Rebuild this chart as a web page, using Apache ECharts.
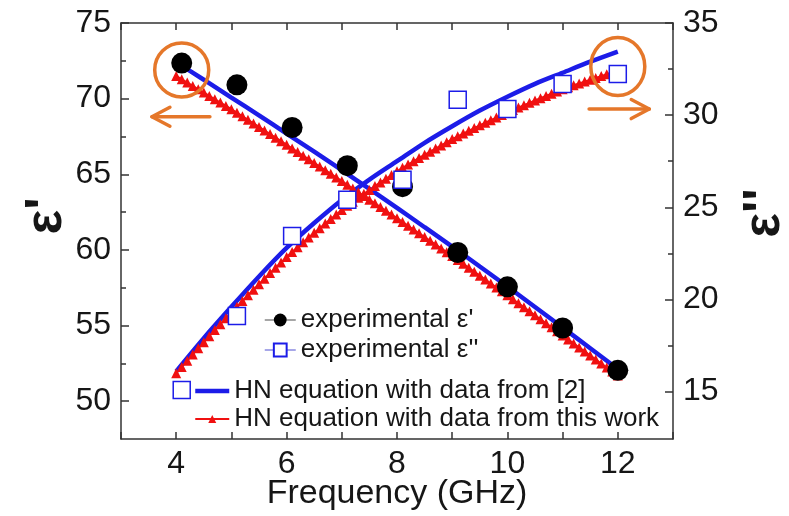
<!DOCTYPE html>
<html>
<head>
<meta charset="utf-8">
<script src="https://cdn.jsdelivr.net/npm/echarts@6/dist/echarts.min.js"></script>
<style>html,body{margin:0;padding:0;background:#fff;}#c{width:789px;height:516px;}</style>
</head>
<body>
<div id="c"></div>
<script>
// ---- data ----
const expFreq = [4.1, 5.1, 6.1, 7.1, 8.1, 9.1, 10.0, 11.0, 12.0];
const expEps1 = [72.35, 70.91, 68.09, 65.57, 64.18, 59.83, 57.56, 54.84, 52.04];
const expEps2 = [15.09, 19.11, 23.45, 25.41, 26.49, 30.84, 30.33, 31.69, 32.23];

const hnRefFreq = [4.0, 4.5, 5.0, 5.5, 6.0, 6.5, 7.0, 7.5, 8.0, 8.5, 9.0, 9.5, 10.0, 10.5, 11.0, 11.5, 12.0];
const hnRefEps1 = [72.4, 71.25, 70.07, 68.9, 67.69, 66.5, 65.27, 64.03, 62.78, 61.5, 60.22, 58.9, 57.58, 56.23, 54.87, 53.5, 52.13];
const hnRefEps2 = [16.1, 17.9, 19.6, 21.25, 22.8, 24.15, 25.4, 26.5, 27.5, 28.5, 29.4, 30.25, 31.0, 31.7, 32.3, 32.9, 33.45];

const hnWorkFreq = [4.0,4.1,4.2,4.3,4.4,4.5,4.6,4.7,4.8,4.9,5.0,5.1,5.2,5.3,5.4,5.5,5.6,5.7,5.8,5.9,6.0,6.1,6.2,6.3,6.4,6.5,6.6,6.7,6.8,6.9,7.0,7.1,7.2,7.3,7.4,7.5,7.6,7.7,7.8,7.9,8.0,8.1,8.2,8.3,8.4,8.5,8.6,8.7,8.8,8.9,9.0,9.1,9.2,9.3,9.4,9.5,9.6,9.7,9.8,9.9,10.0,10.1,10.2,10.3,10.4,10.5,10.6,10.7,10.8,10.9,11.0,11.1,11.2,11.3,11.4,11.5,11.6,11.7,11.8,11.9,12.0];
const hnWorkEps1 = [71.50,71.28,71.06,70.84,70.62,70.40,70.18,69.96,69.74,69.52,69.30,69.07,68.83,68.60,68.36,68.13,67.89,67.66,67.42,67.19,66.95,66.71,66.47,66.23,65.99,65.75,65.51,65.27,65.03,64.79,64.55,64.30,64.06,63.81,63.57,63.32,63.08,62.83,62.59,62.34,62.10,61.85,61.60,61.35,61.10,60.85,60.60,60.35,60.10,59.85,59.60,59.34,59.08,58.82,58.56,58.30,58.04,57.78,57.52,57.26,57.00,56.74,56.47,56.21,55.94,55.68,55.41,55.15,54.88,54.62,54.35,54.08,53.82,53.55,53.29,53.02,52.76,52.49,52.23,51.96,51.70];
const hnWorkEps2 = [16.00,16.34,16.68,17.02,17.35,17.68,18.01,18.34,18.66,18.98,19.30,19.61,19.92,20.23,20.53,20.83,21.13,21.43,21.72,22.01,22.30,22.57,22.84,23.10,23.36,23.62,23.87,24.12,24.37,24.61,24.85,25.08,25.30,25.52,25.73,25.94,26.15,26.35,26.55,26.75,26.95,27.14,27.32,27.50,27.68,27.85,28.02,28.19,28.36,28.53,28.70,28.85,29.00,29.15,29.30,29.45,29.59,29.73,29.87,30.01,30.15,30.28,30.41,30.54,30.67,30.80,30.92,31.04,31.16,31.28,31.40,31.51,31.62,31.72,31.82,31.92,32.02,32.12,32.22,32.31,32.40];

const xTicks = [4, 6, 8, 10, 12];
const leftMajor = [50, 55, 60, 65, 70, 75];
const leftMinor = [52.5, 57.5, 62.5, 67.5, 72.5];
const rightMajor = [15, 20, 25, 30, 35];
const rightMinor = [17.5, 22.5, 27.5, 32.5];

// annotation anchors (data units)
const leftMarker = [4.1, 71.9];      // left axis
const rightMarker = [12.0, 32.64];   // right axis
const leftArrow = [[4.61, 68.8], [3.56, 68.8]];
const rightArrow = [[11.48, 30.33], [12.57, 30.33]];

const nameA = "experimental \u03b5'";
const nameB = "experimental \u03b5''";
const nameC = "HN equation with data from [2]";
const nameD = "HN equation with data from this work";

const FONT = "'Liberation Sans', Arial, sans-serif";
const AX = '#333';
const TXT = '#161616';
const BLUE = '#1c1ce8';
const RED = '#f01010';
const ORANGE = '#e5772a';

const zip = (a, b) => a.map((v, i) => [v, b[i]]);

const chart = echarts.init(document.getElementById('c'), null, {renderer: 'canvas'});

const axisLine = {show: true, onZero: false, lineStyle: {color: AX, width: 1.5}};

const option = {
  animation: false,
  backgroundColor: '#fff',
  grid: {left: 121, right: 116, top: 23, bottom: 77, containLabel: false, outerBoundsMode: 'none'},
  legend: [
    {
      orient: 'vertical', left: 259, top: 302, itemWidth: 31, itemHeight: 16, itemGap: 4,
      textStyle: {fontSize: 26, color: TXT, fontFamily: FONT},
      data: [
        {name: nameA, lineStyle: {color: '#888', width: 1.5, opacity: 1}},
        {name: nameB, lineStyle: {color: '#8a8ae0', width: 1.5, opacity: 1}}
      ]
    },
    {
      orient: 'vertical', left: 188, top: 373, itemWidth: 34, itemHeight: 10, itemGap: 2,
      textStyle: {fontSize: 26, color: TXT, fontFamily: FONT},
      data: [
        {name: nameC, itemStyle: {opacity: 0}, lineStyle: {width: 4.5, color: BLUE, opacity: 1}},
        {name: nameD, lineStyle: {width: 2, color: RED, opacity: 1}}
      ]
    }
  ],
  xAxis: [
    {
      type: 'value', min: 3, max: 13, interval: 1, position: 'bottom',
      axisLine: axisLine,
      axisTick: {show: true, inside: true, length: 7, lineStyle: {color: AX, width: 1.5}},
      axisLabel: {
        fontSize: 32, color: TXT, fontFamily: FONT, margin: 9,
        formatter: v => (xTicks.indexOf(v) >= 0 ? String(v) : '')
      },
      splitLine: {show: false},
      name: 'Frequency (GHz)', nameLocation: 'middle', nameGap: 38, nameMoveOverlap: false,
      nameTextStyle: {fontSize: 34, color: TXT, fontFamily: FONT}
    },
    {
      type: 'value', min: 3, max: 13, interval: 1, position: 'top',
      axisLine: axisLine,
      axisTick: {show: true, inside: true, length: 7, lineStyle: {color: AX, width: 1.5}},
      axisLabel: {show: false},
      splitLine: {show: false}
    }
  ],
  yAxis: [
    {
      type: 'value', min: 47.5, max: 75, position: 'left',
      axisLine: axisLine,
      axisTick: {show: true, inside: true, length: 8, customValues: leftMajor, lineStyle: {color: AX, width: 1.5}},
      axisLabel: {fontSize: 32, color: TXT, fontFamily: FONT, margin: 10, customValues: leftMajor},
      splitLine: {show: false},
      name: "\u03b5'", nameLocation: 'middle', nameRotate: 90, nameGap: 48, nameMoveOverlap: false,
      nameTextStyle: {fontSize: 52, fontWeight: 'bold', color: TXT, fontFamily: FONT, padding: [0, 0, 0, 30]}
    },
    {
      type: 'value', min: 47.5, max: 75, position: 'left',
      axisLine: {show: false},
      axisTick: {show: true, inside: true, length: 5, customValues: leftMinor, lineStyle: {color: AX, width: 1.5}},
      axisLabel: {show: false},
      splitLine: {show: false}
    },
    {
      type: 'value', min: 12.43, max: 35, position: 'right',
      axisLine: axisLine,
      axisTick: {show: true, inside: true, length: 8, customValues: rightMajor, lineStyle: {color: AX, width: 1.5}},
      axisLabel: {fontSize: 32, color: TXT, fontFamily: FONT, margin: 10, customValues: rightMajor},
      splitLine: {show: false},
      name: "\u03b5''", nameLocation: 'middle', nameRotate: 90, nameGap: 66, nameMoveOverlap: false,
      nameTextStyle: {fontSize: 52, fontWeight: 'bold', color: TXT, fontFamily: FONT, padding: [0, 0, 0, 36]}
    },
    {
      type: 'value', min: 12.43, max: 35, position: 'right',
      axisLine: {show: false},
      axisTick: {show: true, inside: true, length: 5, customValues: rightMinor, lineStyle: {color: AX, width: 1.5}},
      axisLabel: {show: false},
      splitLine: {show: false}
    }
  ],
  series: [
    {
      name: nameD, type: 'line', xAxisIndex: 0, yAxisIndex: 0,
      data: zip(hnWorkFreq, hnWorkEps1),
      symbol: 'triangle', symbolSize: 10, showSymbol: true, showAllSymbol: true,
      lineStyle: {color: RED, width: 2}, itemStyle: {color: RED}
    },
    {
      name: nameD, type: 'line', xAxisIndex: 0, yAxisIndex: 2,
      data: zip(hnWorkFreq, hnWorkEps2),
      symbol: 'triangle', symbolSize: 10, showSymbol: true, showAllSymbol: true,
      lineStyle: {color: RED, width: 2}, itemStyle: {color: RED}
    },
    {
      name: nameC, type: 'line', xAxisIndex: 0, yAxisIndex: 0,
      data: zip(hnRefFreq, hnRefEps1), smooth: 0.3,
      symbol: 'none', lineStyle: {color: BLUE, width: 4.5}, itemStyle: {color: BLUE}
    },
    {
      name: nameC, type: 'line', xAxisIndex: 0, yAxisIndex: 2,
      data: zip(hnRefFreq, hnRefEps2), smooth: 0.3,
      symbol: 'none', lineStyle: {color: BLUE, width: 4.5}, itemStyle: {color: BLUE}
    },
    {
      name: nameA, type: 'line', xAxisIndex: 0, yAxisIndex: 0,
      data: zip(expFreq, expEps1),
      symbol: 'circle', symbolSize: 21,
      lineStyle: {width: 0, opacity: 0}, itemStyle: {color: '#000'}
    },
    {
      name: nameB, type: 'line', xAxisIndex: 0, yAxisIndex: 2,
      data: zip(expFreq, expEps2),
      symbol: 'rect', symbolSize: 17,
      lineStyle: {width: 0, opacity: 0},
      itemStyle: {color: '#fff', borderColor: BLUE, borderWidth: 1.5}
    }
  ]
};

chart.setOption(option);

// annotations anchored to data coordinates
const pL = chart.convertToPixel({xAxisIndex: 0, yAxisIndex: 0}, leftMarker);
const pR = chart.convertToPixel({xAxisIndex: 0, yAxisIndex: 2}, rightMarker);
const aL0 = chart.convertToPixel({xAxisIndex: 0, yAxisIndex: 0}, leftArrow[0]);
const aL1 = chart.convertToPixel({xAxisIndex: 0, yAxisIndex: 0}, leftArrow[1]);
const aR0 = chart.convertToPixel({xAxisIndex: 0, yAxisIndex: 2}, rightArrow[0]);
const aR1 = chart.convertToPixel({xAxisIndex: 0, yAxisIndex: 2}, rightArrow[1]);
const orangeStyle = {stroke: ORANGE, lineWidth: 3.5, fill: null, lineCap: 'round', lineJoin: 'round'};
chart.setOption({
  graphic: [
    {type: 'ellipse', shape: {cx: pL[0], cy: pL[1], rx: 27, ry: 27}, style: orangeStyle, z: 100},
    {type: 'ellipse', shape: {cx: pR[0], cy: pR[1], rx: 27, ry: 29}, style: orangeStyle, z: 100},
    {type: 'polyline', shape: {points: [aL0, aL1]}, style: orangeStyle, z: 100},
    {type: 'polyline', shape: {points: [[aL1[0] + 18, aL1[1] - 9.5], aL1, [aL1[0] + 18, aL1[1] + 9.5]]}, style: orangeStyle, z: 100},
    {type: 'polyline', shape: {points: [aR0, aR1]}, style: orangeStyle, z: 100},
    {type: 'polyline', shape: {points: [[aR1[0] - 18, aR1[1] - 9.5], aR1, [aR1[0] - 18, aR1[1] + 9.5]]}, style: orangeStyle, z: 100}
  ]
});
</script>
</body>
</html>
